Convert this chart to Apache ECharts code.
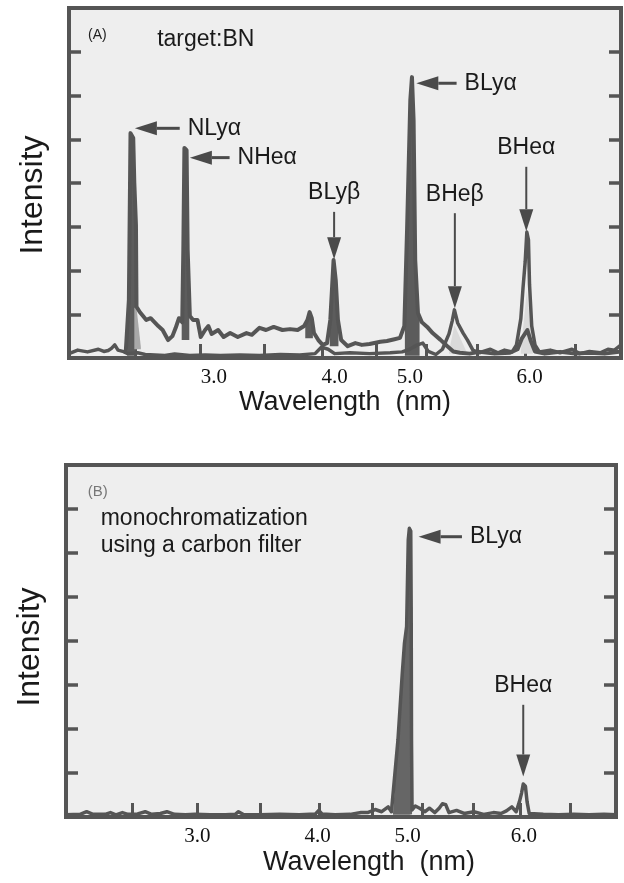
<!DOCTYPE html>
<html>
<head>
<meta charset="utf-8">
<script src="https://cdn.jsdelivr.net/npm/echarts@6/dist/echarts.min.js"></script>
<style>
  html, body { margin: 0; padding: 0; background: #ffffff; }
  #chart { width: 624px; height: 883px; }
</style>
</head>
<body>
<div id="chart"></div>
<script>
// axis ranges (wavelength axis of the scanned figure, nm)
const xMin = 1.87, xMax = 6.94;
const yMin = 0, yMax = 8, yStep = 1;

// tick marks and tick labels along the wavelength axis
const xTickValues = [2.48, 3.08, 3.66, 4.20, 4.69, 5.15, 5.62, 6.06, 6.52];
const xLabelText = ['3.0', '4.0', '5.0', '6.0'];
const xLabelPosA = [3.20, 4.31, 5.00, 6.10];
const xLabelPosB = [3.08, 4.19, 5.02, 6.09];

// (A) spectrum with continuum
const spectrumA1 = [
  [2.39, 0.09], [2.42, 1.33], [2.435, 5.14], [2.46, 5.03], [2.47, 4.0], [2.485, 3.04], [2.49, 1.17],
  [2.52, 1.05], [2.58, 0.87], [2.62, 0.91], [2.69, 0.73], [2.73, 0.64], [2.78, 0.41], [2.82, 0.5],
  [2.85, 0.69], [2.88, 0.91], [2.91, 0.82], [2.92, 2.47], [2.93, 4.8], [2.95, 4.75], [2.96, 2.47],
  [2.98, 0.96], [3.01, 0.87], [3.05, 0.87], [3.08, 0.48], [3.12, 0.64], [3.15, 0.73], [3.18, 0.55],
  [3.24, 0.64], [3.29, 0.48], [3.35, 0.57], [3.42, 0.48], [3.50, 0.57], [3.55, 0.53], [3.62, 0.69],
  [3.68, 0.64], [3.75, 0.71], [3.83, 0.64], [3.90, 0.66], [3.97, 0.64], [4.03, 0.73], [4.06, 0.87],
  [4.08, 1.05], [4.10, 0.91], [4.12, 0.57], [4.16, 0.41], [4.20, 0.3], [4.24, 0.34], [4.27, 0.87],
  [4.285, 1.55], [4.30, 2.24], [4.32, 1.78], [4.34, 0.87], [4.37, 0.41], [4.43, 0.27], [4.50, 0.34],
  [4.56, 0.3], [4.63, 0.32], [4.73, 0.37], [4.79, 0.39], [4.86, 0.43], [4.91, 0.46], [4.95, 0.73],
  [4.975, 2.93], [5.005, 5.9], [5.02, 6.42], [5.035, 5.44], [5.05, 2.24], [5.075, 1.03], [5.11, 0.82],
  [5.16, 0.71], [5.21, 0.57], [5.28, 0.42], [5.34, 0.28], [5.40, 0.15], [5.46, 0.12], [5.55, 0.1],
  [5.64, 0.14], [5.78, 0.1], [5.92, 0.12], [5.99, 0.2], [6.03, 0.45], [6.08, 0.64], [6.11, 0.4],
  [6.15, 0.15], [6.24, 0.1], [6.38, 0.14], [6.52, 0.1], [6.65, 0.12], [6.79, 0.1], [6.94, 0.15]
];

// (A) second, low-background spectrum
const spectrumA2 = [
  [1.87, 0.1], [1.95, 0.18], [2.04, 0.14], [2.14, 0.2], [2.19, 0.15], [2.23, 0.17], [2.26, 0.22],
  [2.29, 0.3], [2.32, 0.18], [2.38, 0.14], [2.41, 0.1], [2.50, 0.12], [2.57, 0.08], [2.66, 0.07],
  [2.75, 0.06], [2.84, 0.09], [2.98, 0.06], [3.12, 0.07], [3.26, 0.06], [3.44, 0.07], [3.62, 0.06],
  [3.81, 0.08], [3.99, 0.07], [4.13, 0.1], [4.19, 0.25], [4.25, 0.2], [4.31, 0.1], [4.45, 0.12],
  [4.63, 0.1], [4.82, 0.12], [4.93, 0.14], [5.00, 0.2], [5.07, 0.3], [5.12, 0.34], [5.17, 0.15],
  [5.24, 0.08], [5.30, 0.2], [5.36, 0.55], [5.39, 0.85], [5.41, 1.1], [5.44, 0.8], [5.49, 0.57],
  [5.53, 0.41], [5.58, 0.18], [5.64, 0.12], [5.74, 0.2], [5.81, 0.12], [5.87, 0.18], [5.94, 0.14],
  [5.98, 0.3], [6.02, 0.9], [6.04, 1.6], [6.06, 2.2], [6.075, 2.88], [6.09, 2.7], [6.10, 1.67],
  [6.12, 0.73], [6.15, 0.3], [6.19, 0.14], [6.29, 0.18], [6.38, 0.12], [6.49, 0.2], [6.56, 0.1],
  [6.65, 0.15], [6.75, 0.12], [6.82, 0.2], [6.88, 0.18], [6.94, 0.3]
];

// (A) shaded line areas: points and lower edge
const fillNLyaA = [[2.405, 0.6], [2.42, 1.33], [2.435, 5.14], [2.46, 5.03], [2.47, 4.0], [2.478, 2.5], [2.48, 0.6]];
const fillNLyaFlankA = [[2.47, 1.15], [2.49, 1.15], [2.53, 0.25]];
const fillNHeaA = [[2.905, 0.8], [2.92, 2.47], [2.93, 4.8], [2.95, 4.75], [2.96, 2.47], [2.975, 0.9]];
const fillSmallA = [[4.04, 0.75], [4.08, 1.05], [4.11, 0.75]];
const fillBLybA = [[4.265, 0.8], [4.285, 1.55], [4.30, 2.24], [4.32, 1.78], [4.345, 0.8]];
const fillBLyaA = [[4.955, 0.7], [4.975, 2.93], [5.005, 5.9], [5.02, 6.42], [5.035, 5.44], [5.05, 2.24], [5.075, 1.03], [5.09, 0.85]];
const fillBHebA = [[5.36, 0.15], [5.41, 0.75], [5.52, 0.15]];
const fillBHeaA = [[6.02, 0.15], [6.075, 1.55], [6.13, 0.15]];

// (B) spectrum through the carbon filter
const spectrumB = [
  [1.87, 0.05], [2.00, 0.06], [2.06, 0.12], [2.12, 0.06], [2.23, 0.06], [2.28, 0.1], [2.33, 0.05],
  [2.39, 0.1], [2.44, 0.06], [2.53, 0.07], [2.60, 0.12], [2.66, 0.06], [2.74, 0.08], [2.80, 0.12],
  [2.87, 0.06], [2.97, 0.05], [3.06, 0.06], [3.20, 0.05], [3.34, 0.05], [3.43, 0.06], [3.46, 0.12],
  [3.51, 0.05], [3.66, 0.05], [3.84, 0.06], [4.02, 0.05], [4.17, 0.07], [4.20, 0.15], [4.23, 0.07],
  [4.35, 0.05], [4.49, 0.06], [4.59, 0.1], [4.65, 0.1], [4.72, 0.17], [4.78, 0.12], [4.84, 0.23],
  [4.87, 0.12], [4.884, 0.08], [4.93, 1.75], [4.97, 3.27], [4.99, 3.95], [5.01, 4.33], [5.025, 6.3],
  [5.035, 6.56], [5.048, 6.5], [5.052, 4.78], [5.055, 1.75], [5.06, 0.16], [5.09, 0.25], [5.13, 0.2],
  [5.18, 0.12], [5.22, 0.2], [5.27, 0.1], [5.31, 0.2], [5.34, 0.3], [5.37, 0.28], [5.40, 0.1],
  [5.47, 0.15], [5.54, 0.08], [5.63, 0.12], [5.72, 0.06], [5.81, 0.1], [5.88, 0.08], [5.93, 0.14],
  [5.98, 0.23], [6.02, 0.12], [6.05, 0.35], [6.07, 0.55], [6.085, 0.75], [6.105, 0.7], [6.12, 0.35],
  [6.14, 0.08], [6.27, 0.06], [6.41, 0.05], [6.55, 0.06], [6.69, 0.05], [6.83, 0.06], [6.94, 0.05]
];
const fillBLyaB = [[4.884, 0.06], [4.93, 1.75], [4.97, 3.27], [4.99, 3.95], [5.01, 4.33], [5.025, 6.3], [5.035, 6.56], [5.048, 6.5], [5.052, 4.78], [5.055, 1.75], [5.06, 0.06]];

// peak labels: text, arrow tail, arrow tip (data coordinates)
const notesA = [
  { text: 'NLyα', tail: [2.887, 5.25], tip: [2.475, 5.25], dir: 'h' },
  { text: 'NHeα', tail: [3.345, 4.58], tip: [2.98, 4.58], dir: 'h' },
  { text: 'BLyβ', tail: [4.305, 3.34], tip: [4.305, 2.26], dir: 'v' },
  { text: 'BLyα', tail: [5.43, 6.28], tip: [5.06, 6.28], dir: 'h' },
  { text: 'BHeβ', tail: [5.414, 3.31], tip: [5.414, 1.14], dir: 'v' },
  { text: 'BHeα', tail: [6.07, 4.37], tip: [6.07, 2.9], dir: 'v' }
];
const notesB = [
  { text: 'BLyα', tail: [5.52, 6.37], tip: [5.12, 6.37], dir: 'h' },
  { text: 'BHeα', tail: [6.085, 2.55], tip: [6.085, 0.92], dir: 'v' }
];

const ink = '#555555';
const dark = '#5c5c5c';
const pale = '#dadada';

const chart = echarts.init(document.getElementById('chart'), null, { renderer: 'canvas' });

function xAxisFor(gridIndex, labelPos, nameGap, namePad) {
  return {
    type: 'value', gridIndex: gridIndex, min: xMin, max: xMax,
    name: 'Wavelength  (nm)', nameLocation: 'middle', nameGap: nameGap,
    nameTextStyle: { fontFamily: 'Liberation Sans', fontSize: 27, color: '#1a1a1a', padding: namePad },
    axisLine: { show: false },
    axisTick: {
      show: true, inside: true, length: 14, customValues: xTickValues,
      lineStyle: { color: ink, width: 3 }
    },
    axisLabel: {
      show: true, customValues: labelPos, margin: 9,
      fontFamily: 'Liberation Serif', fontSize: 21, color: '#111',
      formatter: function (v) {
        for (let i = 0; i < labelPos.length; i++) {
          if (Math.abs(labelPos[i] - v) < 1e-6) return xLabelText[i];
        }
        return '';
      }
    },
    splitLine: { show: false }
  };
}

function yAxisFor(gridIndex, position, withName, namePad) {
  return {
    type: 'value', gridIndex: gridIndex, position: position,
    min: yMin, max: yMax, interval: yStep,
    name: withName ? 'Intensity' : '', nameLocation: 'middle', nameGap: 20, nameRotate: 90,
    nameTextStyle: { fontFamily: 'Liberation Sans', fontSize: 32, color: '#1a1a1a', padding: namePad },
    axisLine: { show: false },
    axisTick: { show: true, inside: true, length: 12, lineStyle: { color: ink, width: 3.5 } },
    axisLabel: { show: false },
    splitLine: { show: false }
  };
}

function fillSeries(data, origin, color, xi, yi) {
  return {
    type: 'line', xAxisIndex: xi, yAxisIndex: yi, data: data,
    showSymbol: false, silent: true, z: 1,
    lineStyle: { width: 0, opacity: 0 },
    areaStyle: { color: color, opacity: 1, origin: origin }
  };
}

function traceSeries(data, xi, yi, width) {
  return {
    type: 'line', xAxisIndex: xi, yAxisIndex: yi, data: data,
    showSymbol: false, silent: true, z: 3,
    lineStyle: { color: ink, width: width, join: 'round' }
  };
}

const option = {
  animation: false,
  backgroundColor: '#ffffff',
  grid: [
    { left: 69, top: 8, width: 552, height: 350, show: true, backgroundColor: '#eeeeee', borderColor: ink, borderWidth: 4 },
    { left: 66, top: 465, width: 550, height: 352, show: true, backgroundColor: '#eeeeee', borderColor: ink, borderWidth: 4 }
  ],
  xAxis: [
    xAxisFor(0, xLabelPosA, 24, [0, 0, 0, 0]),
    xAxisFor(1, xLabelPosB, 32, [0, 0, 0, 56])
  ],
  yAxis: [
    yAxisFor(0, 'left', true, [0, 24, 0, 0]),
    yAxisFor(0, 'right', false, 0),
    yAxisFor(1, 'left', true, [0, 12, 0, 0]),
    yAxisFor(1, 'right', false, 0)
  ],
  series: [
    fillSeries(fillNLyaA, 0.05, dark, 0, 0),
    fillSeries(fillNLyaFlankA, 0.2, '#a9a9a9', 0, 0),
    fillSeries(fillNHeaA, 0.41, dark, 0, 0),
    fillSeries(fillSmallA, 0.45, dark, 0, 0),
    fillSeries(fillBLybA, 0.27, dark, 0, 0),
    fillSeries(fillBLyaA, 0.05, dark, 0, 0),
    fillSeries(fillBHebA, 0.1, pale, 0, 0),
    fillSeries(fillBHeaA, 0.1, pale, 0, 0),
    traceSeries(spectrumA2, 0, 0, 3.5),
    traceSeries(spectrumA1, 0, 0, 4),
    fillSeries(fillBLyaB, 0.05, '#666666', 1, 2),
    traceSeries(spectrumB, 1, 2, 3.5)
  ]
};

chart.setOption(option);

// annotations placed from data coordinates
function px(gridIndex, p) {
  return chart.convertToPixel({ gridIndex: gridIndex }, p);
}

function arrow(tail, tip, width) {
  const dx = tip[0] - tail[0], dy = tip[1] - tail[1];
  const len = Math.hypot(dx, dy);
  const ux = dx / len, uy = dy / len;
  const headLen = 22, headHalf = 7;
  const bx = tip[0] - ux * headLen, by = tip[1] - uy * headLen;
  return [
    { type: 'line', z: 10, shape: { x1: tail[0], y1: tail[1], x2: bx, y2: by }, style: { stroke: '#4a4a4a', lineWidth: width } },
    { type: 'polygon', z: 10, shape: { points: [[tip[0], tip[1]], [bx - uy * headHalf, by + ux * headHalf], [bx + uy * headHalf, by - ux * headHalf]] }, style: { fill: '#4a4a4a' } }
  ];
}

function textAt(p, text, size, align, color) {
  return {
    type: 'text', z: 10, x: p[0], y: p[1],
    style: { text: text, fontFamily: 'Liberation Sans', fontSize: size, fill: color || '#1a1a1a', textAlign: align, textVerticalAlign: 'middle' }
  };
}

const graphics = [];
function addNotes(notes, gridIndex) {
  notes.forEach(function (n) {
    const tail = px(gridIndex, n.tail);
    const tip = px(gridIndex, n.tip);
    if (n.dir === 'h') {
      graphics.push.apply(graphics, arrow(tail, tip, 3));
      graphics.push(textAt([tail[0] + 8, tail[1]], n.text, 23, 'left'));
    } else {
      graphics.push.apply(graphics, arrow(tail, tip, 2));
      graphics.push(textAt([tail[0], tail[1] - 19], n.text, 23, 'center'));
    }
  });
}
addNotes(notesA, 0);
addNotes(notesB, 1);

graphics.push(textAt(px(0, [2.045, 7.38]), '(A)', 14, 'left', '#222'));
graphics.push(textAt(px(0, [2.68, 7.27]), 'target:BN', 23, 'left'));
graphics.push(textAt(px(1, [2.07, 7.39]), '(B)', 15, 'left', '#777'));
graphics.push(textAt(px(1, [2.19, 6.77]), 'monochromatization', 23, 'left'));
graphics.push(textAt(px(1, [2.19, 6.16]), 'using a carbon filter', 23, 'left'));

chart.setOption({ graphic: graphics });
</script>
</body>
</html>
